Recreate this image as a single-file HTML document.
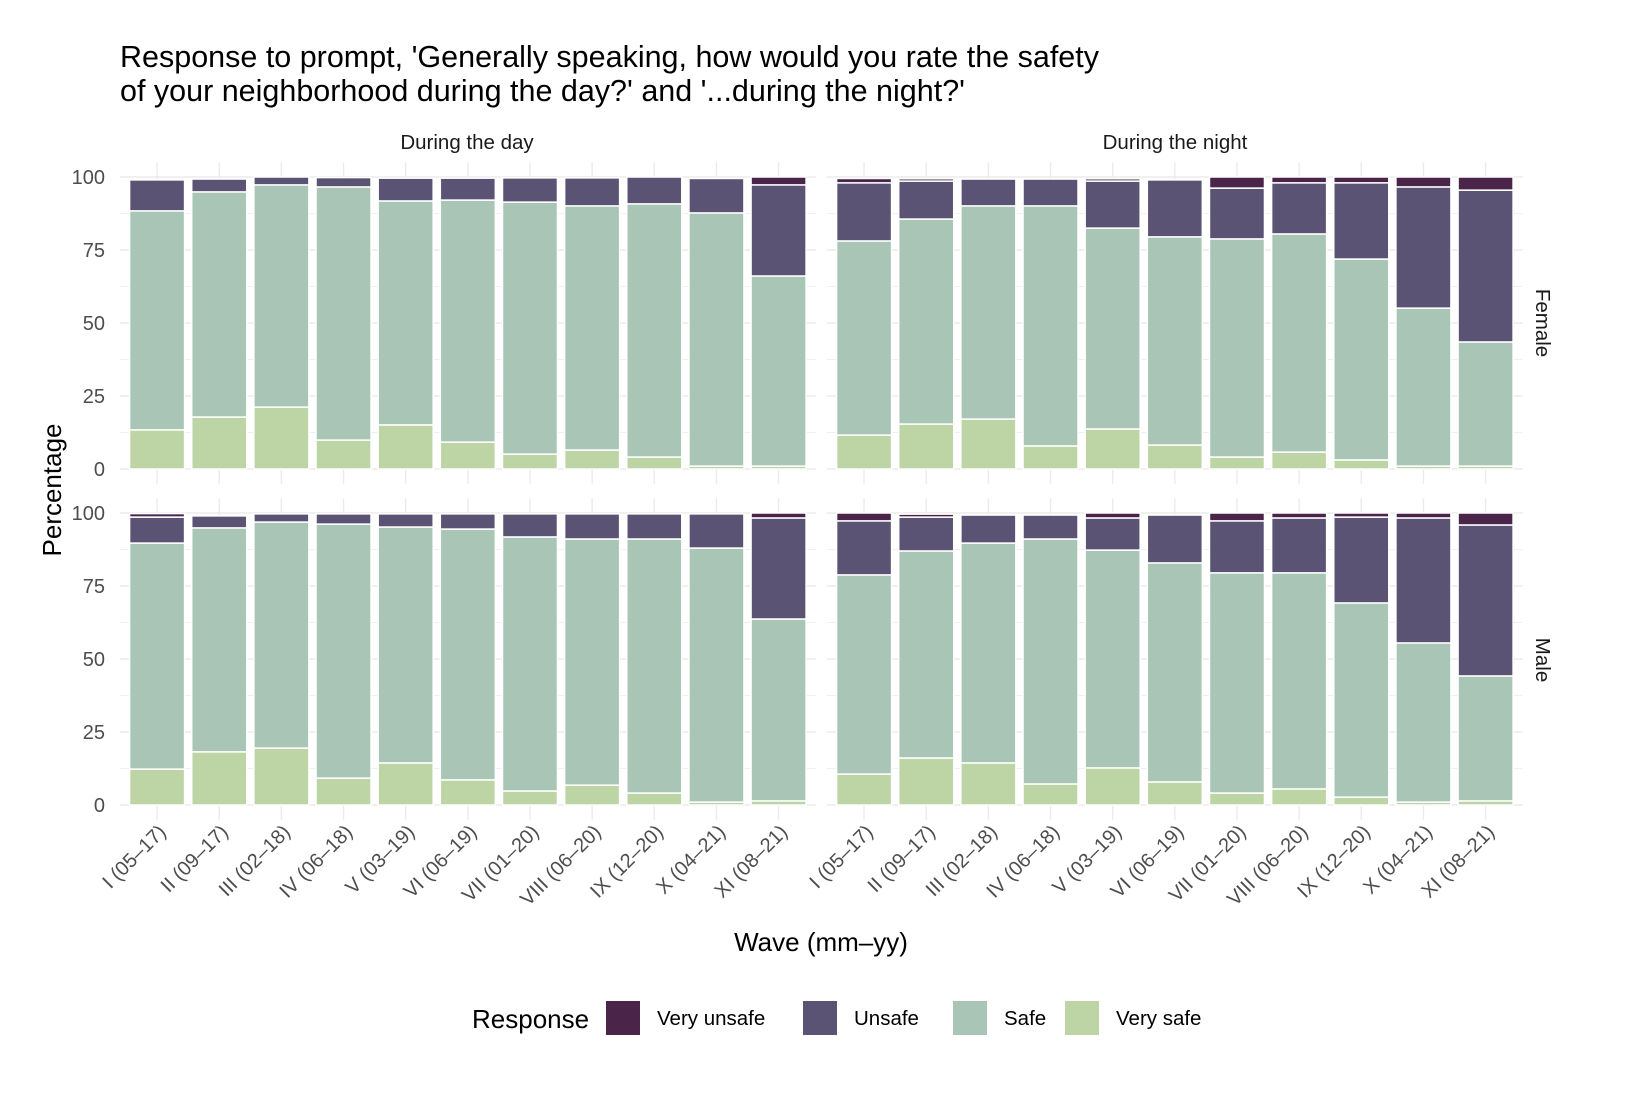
<!DOCTYPE html>
<html><head><meta charset="utf-8"><style>
body{margin:0;background:#fff;font-family:"Liberation Sans",Arial,sans-serif}
svg text{font-family:"Liberation Sans",Arial,sans-serif}
</style></head><body>
<svg id="chart" width="1626" height="1098" xmlns="http://www.w3.org/2000/svg">
<text x="120" y="67" font-size="30.5" fill="#000">Response to prompt, 'Generally speaking, how would you rate the safety</text>
<text x="120" y="101" font-size="30.5" fill="#000">of your neighborhood during the day?' and '...during the night?'</text>
<text x="467" y="149" font-size="20.5" text-anchor="middle" fill="#1a1a1a">During the day</text>
<text x="1175" y="149" font-size="20.5" text-anchor="middle" fill="#1a1a1a">During the night</text>
<text transform="translate(1536,323) rotate(90)" font-size="20.5" text-anchor="middle" fill="#1a1a1a">Female</text>
<text transform="translate(1536,660) rotate(90)" font-size="20.5" text-anchor="middle" fill="#1a1a1a">Male</text>
<text x="821" y="951" font-size="26" text-anchor="middle" fill="#000">Wave (mm–yy)</text>
<text transform="translate(61,490) rotate(-90)" font-size="26" text-anchor="middle" fill="#000">Percentage</text>
<g id="plots"></g>
<g>
<text x="472" y="1028" font-size="26" fill="#000">Response</text>
<rect x="606" y="1001" width="34" height="34" fill="#4b2449"/>
<text x="657" y="1025" font-size="20.5">Very unsafe</text>
<rect x="803" y="1001" width="34" height="34" fill="#5b5373"/>
<text x="854" y="1025" font-size="20.5">Unsafe</text>
<rect x="953" y="1001" width="34" height="34" fill="#a8c5b5"/>
<text x="1004" y="1025" font-size="20.5">Safe</text>
<rect x="1065" y="1001" width="34" height="34" fill="#bdd5a4"/>
<text x="1116" y="1025" font-size="20.5">Very safe</text>
</g>
</svg>
<script>
const waves = ["I (05\u201317)","II (09\u201317)","III (02\u201318)","IV (06\u201318)","V (03\u201319)","VI (06\u201319)","VII (01\u201320)","VIII (06\u201320)","IX (12\u201320)","X (04\u201321)","XI (08\u201321)"];
const yTicks = [0,25,50,75,100];
// each array: [very safe, safe, unsafe, very unsafe] per wave
const femaleDay = [[13.4,75,10.6,0],[17.8,77.1,4.4,0],[21.2,76.1,2.7,0],[9.9,86.7,3.2,0],[15.1,76.7,7.8,0],[9.2,82.9,7.5,0],[5.1,86.3,8.3,0],[6.5,83.6,9.6,0],[4.1,86.7,9.2,0],[1,86.7,11.8,0],[1,65.1,31.2,2.7]];
const femaleNight = [[11.6,66.5,19.9,1.5],[15.4,70.2,13,0.8],[17.1,73,9.2,0],[7.9,82.2,9.2,0],[13.7,68.8,16.1,0.8],[8.2,71.3,19.5,0],[4.1,74.7,17.4,3.8],[5.8,74.7,17.5,2],[3.1,68.8,26.1,2],[1,54.1,41.5,3.4],[1,42.5,52,4.5]];
const maleDay = [[12.3,77.4,8.9,1.2],[18.2,76.7,4.1,0],[19.5,77.4,2.8,0],[9.2,87,3.5,0],[14.4,80.8,4.5,0],[8.6,85.9,5.2,0],[4.8,87,7.9,0],[6.8,84.3,8.6,0],[4.1,87,8.6,0],[1,87,11.7,0],[1.4,62.3,34.6,1.7]];
const maleNight = [[10.6,68.2,18.5,2.7],[16.1,70.9,11.6,1],[14.4,75.3,9.6,0],[7.2,83.9,8.2,0],[12.7,74.6,11,1.7],[7.9,75,16.4,0],[4.1,75.4,17.8,2.7],[5.5,74,18.8,1.7],[2.7,66.5,29.4,1.4],[1,54.5,42.8,1.7],[1.4,42.8,51.7,4.1]];
const colors = ["#bdd5a4","#a8c5b5","#5b5373","#4b2449"];
const segNames = ["very-safe","safe","unsafe","very-unsafe"];
const NS="http://www.w3.org/2000/svg";
const root=document.getElementById('plots');
function mk(tag,attrs,parent){const e=document.createElementNS(NS,tag);for(const k in attrs)e.setAttribute(k,attrs[k]);(parent||root).appendChild(e);return e;}
const panels=[
 {data:femaleDay,x0:126,y0:469,name:"female-day",col:0,row:0},
 {data:femaleNight,x0:833,y0:469,name:"female-night",col:1,row:0},
 {data:maleDay,x0:126,y0:805,name:"male-day",col:0,row:1},
 {data:maleNight,x0:833,y0:805,name:"male-night",col:1,row:1}];
const step=62.15, pw=step*11, ppu=2.92;
panels.forEach(p=>{
  const g=mk('g',{});
  
  
  const xs=i=>p.x0+step*(i+0.5);
  const ys=v=>p.y0-v*ppu;
  const top=ys(105), bot=ys(-5);
  for(let v=0;v<=100;v+=12.5){
    const l=mk('line',{x1:p.x0-6,x2:p.x0+pw+6,y1:ys(v),y2:ys(v),stroke:"#ebebeb","stroke-width":(v%25===0)?1.4:0.7},g);
    
    
  }
  waves.forEach((w,i)=>{
    const l=mk('line',{x1:xs(i),x2:xs(i),y1:top,y2:bot,stroke:"#ebebeb","stroke-width":1.4},g);
    
    
  });
  p.data.forEach((vals,i)=>{
    let cum=0;
    vals.forEach((v,k)=>{
      if(v<=0)return;
      const r=mk('rect',{x:xs(i)-27.5,width:55,y:ys(cum+v),height:v*ppu,fill:colors[k],stroke:"#fff","stroke-width":1.5},g);
      
      
      cum+=v;
    });
  });
  if(p.col===0){
    yTicks.forEach(t=>{
      const tx=mk('text',{x:p.x0-21,y:ys(t)+7,"font-size":20,"text-anchor":"end",fill:"#4d4d4d"},g);
      tx.textContent=t;
      
      
    });
  }
  if(p.row===1){
    waves.forEach((w,i)=>{
      const tx=mk('text',{transform:`translate(${xs(i)+10},${p.y0+28}) rotate(-45)`,"font-size":20,"text-anchor":"end",fill:"#4d4d4d"},g);
      tx.textContent=w;
      
      
    });
  }
});
</script>
</body></html>
